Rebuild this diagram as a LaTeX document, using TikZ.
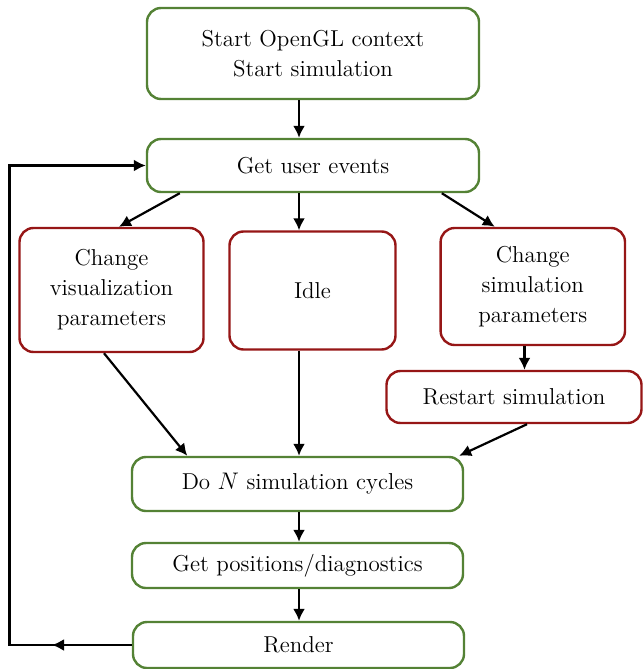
\documentclass[tikz,border=0pt]{standalone}
\usetikzlibrary{arrows.meta}
\definecolor{gboxc}{RGB}{84,130,53}
\definecolor{rboxc}{RGB}{150,22,22}
\tikzset{
 box/.style={draw, line width=1.2pt, rounded corners=7pt, align=center, inner sep=0pt, fill=white,
   font=\fontsize{11.5}{15}\selectfont},
 gbox/.style={box, draw=gboxc},
 rbox/.style={box, draw=rboxc},
 arr/.style={-{Latex[length=6pt,width=6pt]}, line width=1.1pt, black},
}
\begin{document}
\begin{tikzpicture}[x=0.5pt,y=-0.5pt]
\useasboundingbox (0,0) rectangle (643,669);
\node[gbox, minimum width=166pt, minimum height=45.5pt] (b1) at (313,53.5) {Start OpenGL context\\Start simulation};
\node[gbox, minimum width=166pt, minimum height=26.5pt] (b2) at (313,165.5) {Get user events};
\node[rbox, minimum width=92pt, minimum height=62pt] (b3) at (111.5,290) {Change\\visualization\\parameters};
\node[rbox, minimum width=83pt, minimum height=59pt] (b4) at (312.5,290.5) {Idle};
\node[rbox, minimum width=92.2pt, minimum height=58.5pt] (b5) at (532.8,286.5) {Change\\simulation\\parameters};
\node[rbox, minimum width=127.5pt, minimum height=26pt] (b6) at (514,397) {Restart simulation};
\node[gbox, minimum width=165.5pt, minimum height=27pt] (b7) at (297.5,484) {Do $N$ simulation cycles};
\node[gbox, minimum width=165.5pt, minimum height=22.5pt] (b8) at (297.5,565.5) {Get positions/diagnostics};
\node[gbox, minimum width=165.5pt, minimum height=23pt] (b9) at (298.5,645) {Render};
\coordinate (vx) at (299,0);
\coordinate (vx2) at (524.5,0);
\coordinate (fbmid) at (52,645);
\coordinate (fbl) at (9.5,645);
\draw[arr] (b1.south -| vx) -- (b2.north -| vx);
\draw[arr] (b2.south -| vx) -- (b4.north -| vx);
\draw[arr] ([xshift=17pt]b2.south west) -- ([xshift=3.75pt]b3.north);
\draw[arr] ([xshift=-19.2pt]b2.south east) -- ([xshift=27.7pt]b5.north west);
\draw[arr] ([xshift=-3.75pt]b3.south) -- ([xshift=28.25pt]b7.north west);
\draw[arr] (b4.south -| vx) -- (b7.north -| vx);
\draw[arr] (b5.south -| vx2) -- (b6.north -| vx2);
\draw[arr] ([xshift=6.5pt]b6.south) -- ([xshift=-2.5pt]b7.north east);
\draw[arr] (b7.south -| vx) -- (b8.north -| vx);
\draw[arr] (b8.south -| vx) -- (b9.north -| vx);
\draw[arr] (b9.west) -- (fbmid);
\draw[arr] (b9.west) -- (fbl) |- (b2.west);
\end{tikzpicture}
\end{document}
